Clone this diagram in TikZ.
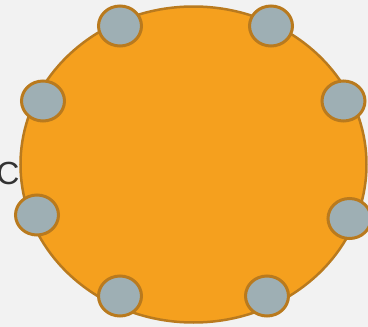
\documentclass[tikz,border=0pt]{standalone}
\usepackage{fontspec}
\setmainfont{Liberation Sans}
\usepackage{tikz}
\usetikzlibrary{shapes.geometric}
\definecolor{pageGray}{HTML}{F2F2F2}
\definecolor{blobOrange}{HTML}{F5A01E}
\definecolor{rimBrown}{HTML}{B97A1E}
\definecolor{portGray}{HTML}{9EAFB4}
\definecolor{inkGray}{HTML}{333333}

\begin{document}
\begin{tikzpicture}[
    x=1pt, y=-1pt,
    blob/.style={ellipse, draw=rimBrown, line width=2.5pt, fill=blobOrange, minimum width=346pt, minimum height=316pt, inner sep=0pt},
    port/.style={ellipse, draw=rimBrown, line width=3pt, fill=portGray, minimum width=43pt, minimum height=40pt, inner sep=0pt},
    letter/.style={text=inkGray, font=\fontsize{32}{32}\selectfont, inner sep=0pt}
]

% Background
\fill[pageGray] (0,0) rectangle (368,327);
\useasboundingbox (0,0) rectangle (368,327);

% Label behind the body
\node[letter] (lbl) at (8,173.5) {C};

% Body
\node[blob] (body) at (193.5,164.5) {};

% Ports
\node[port] (p1) at (120,26) {};
\node[port] (p2) at (271,26) {};
\node[port] (p3) at (43,101) {};
\node[port] (p4) at (343.5,101) {};
\node[port] (p5) at (37,215) {};
\node[port] (p6) at (349.5,218.5) {};
\node[port] (p7) at (120,296) {};
\node[port] (p8) at (267,296) {};

\end{tikzpicture}
\end{document}
